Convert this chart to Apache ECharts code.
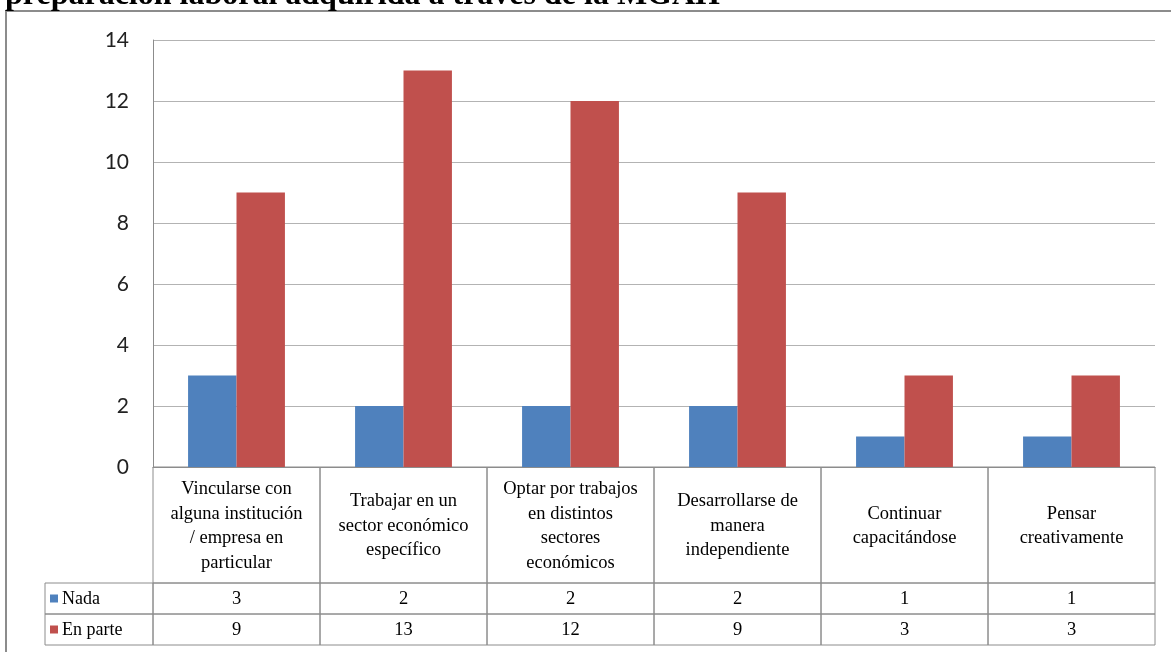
<!DOCTYPE html>
<html>
<head>
<meta charset="utf-8">
<script src="https://cdn.jsdelivr.net/npm/echarts@6/dist/echarts.min.js"></script>
<style>
  html, body { margin: 0; padding: 0; background: #fff; }
  #chart { width: 1171px; height: 652px; }
</style>
</head>
<body>
<div id="chart"></div>
<script>
// datos
const titulo = "preparación laboral adquirida a través de la MGAH";
const categorias = [
    "Vincularse con\nalguna institución\n/ empresa en\nparticular",
    "Trabajar en un\nsector económico\nespecífico",
    "Optar por trabajos\nen distintos\nsectores\neconómicos",
    "Desarrollarse de\nmanera\nindependiente",
    "Continuar\ncapacitándose",
    "Pensar\ncreativamente"
];
const nada = [3, 2, 2, 2, 1, 1];
const enParte = [9, 13, 12, 9, 3, 3];
const series = ["Nada", "En parte"];
const colores = ["#4f81bd", "#c0504d"];

let myChart = echarts.init(document.getElementById("chart"));

//tabla de datos bajo el eje
function renderTabla(params, api) {
    let i = api.value(0);
    let cs = params.coordSys;
    let w = api.size([1, 0])[0];
    let cx = api.coord([i, 0])[0];
    let x0 = cx - w / 2;
    let hHead = cs.height * 116 / 178;
    let hRow = (cs.height - hHead) / 2;
    let y0 = cs.y, y1 = y0 + hHead, y2 = y1 + hRow, y3 = y2 + hRow;
    let borde = { fill: "none", stroke: "#8c8c8c", lineWidth: 1 };
    let txt = { fontSize: 18.5, fontFamily: "Liberation Serif", fill: "#000", align: "center", verticalAlign: "middle", lineHeight: 24.5 };
    let children = [
        { type: "rect", shape: { x: x0, y: y0, width: w, height: hHead }, style: borde },
        { type: "rect", shape: { x: x0, y: y1, width: w, height: hRow }, style: borde },
        { type: "rect", shape: { x: x0, y: y2, width: w, height: hRow }, style: borde },
        { type: "text", style: Object.assign({ text: categorias[i], x: cx, y: (y0 + y1) / 2 + 1 }, txt) },
        { type: "text", style: Object.assign({ text: String(nada[i]), x: cx, y: (y1 + y2) / 2 + 1 }, txt) },
        { type: "text", style: Object.assign({ text: String(enParte[i]), x: cx, y: (y2 + y3) / 2 + 1 }, txt) }
    ];
    if (i === 0) {
        let lx = x0 - 108;
        [y1, y2].forEach(function (yy, k) {
            children.push({ type: "rect", shape: { x: lx, y: yy, width: 108, height: hRow }, style: borde });
            children.push({ type: "rect", shape: { x: lx + 5, y: yy + hRow / 2 - 4, width: 8, height: 8 }, style: { fill: colores[k] } });
            children.push({ type: "text", style: { text: series[k], x: lx + 17, y: yy + hRow / 2 + 1, fontSize: 18, fontFamily: "Liberation Serif", fill: "#000", align: "left", verticalAlign: "middle" } });
        });
    }
    return { type: "group", children: children };
}

myChart.setOption({
    animation: false,
    title: {
        text: titulo,
        left: 0,
        top: -25,
        textStyle: { fontFamily: "Liberation Serif", fontWeight: "bold", fontSize: 32, color: "#000" }
    },
    graphic: [{
        type: "rect",
        shape: { x: 6, y: 11, width: 1200, height: 700 },
        style: { fill: "none", stroke: "#8c8c8c", lineWidth: 2 }
    }],
    grid: [
        { left: 153, right: 16, top: 40, height: 427 },
        { left: 153, right: 16, top: 467, height: 178 }
    ],
    xAxis: [
        {
            type: "category", gridIndex: 0, data: categorias,
            axisLine: { lineStyle: { color: "#8c8c8c" } },
            axisTick: { show: false }, axisLabel: { show: false }
        },
        {
            type: "category", gridIndex: 1, data: categorias, show: false
        }
    ],
    yAxis: [
        {
            type: "value", gridIndex: 0, min: 0, max: 14, interval: 2,
            axisLine: { show: true, lineStyle: { color: "#8c8c8c" } },
            axisTick: { show: false },
            axisLabel: { fontFamily: "Lato", fontSize: 21, color: "#222", margin: 24 },
            splitLine: { lineStyle: { color: "#b3b3b3" } }
        },
        {
            type: "value", gridIndex: 1, min: 0, max: 1, show: false, inverse: true
        }
    ],
    series: [
        {
            name: series[0], type: "bar", data: nada,
            itemStyle: { color: colores[0] },
            barGap: "0%", barCategoryGap: "42%"
        },
        {
            name: series[1], type: "bar", data: enParte,
            itemStyle: { color: colores[1] },
            barGap: "0%", barCategoryGap: "42%"
        },
        {
            type: "custom", xAxisIndex: 1, yAxisIndex: 1,
            data: categorias.map(function (c, i) { return [i, 0]; }),
            encode: { x: 0, y: 1 },
            renderItem: renderTabla,
            silent: true
        }
    ]
});
</script>
</body>
</html>
